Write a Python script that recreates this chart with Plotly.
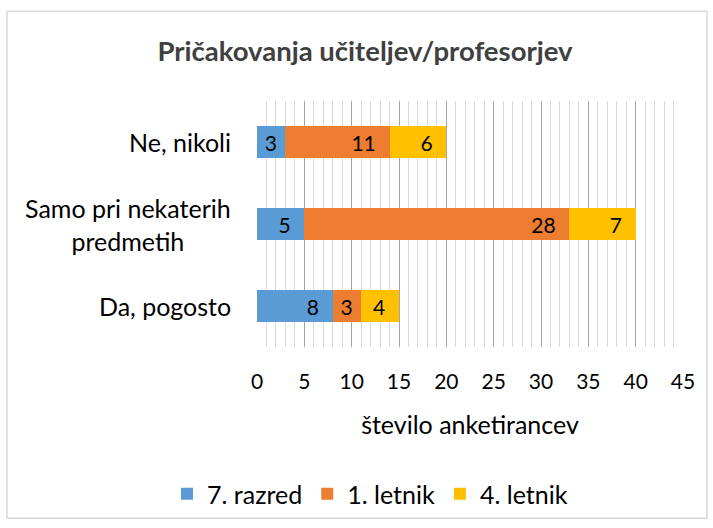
import plotly.graph_objects as go

categories = ["Da, pogosto", "Samo pri nekaterih<br>predmetih", "Ne, nikoli"]
series_names = ["7. razred", "1. letnik", "4. letnik"]
razred7 = [8, 5, 3]
letnik1 = [3, 28, 11]
letnik4 = [4, 7, 6]
x_ticks = [0, 5, 10, 15, 20, 25, 30, 35, 40, 45]

colors = ["#5B9BD5", "#ED7D31", "#FFC000"]
FONT = "Lato, 'Open Sans', sans-serif"


def label(v):
    # inside-end label with a little right padding; less for narrow segments
    return f"{v}" + ("\u00a0\u00a0" if v > 3 else "\u00a0")


fig = go.Figure()
for name, vals, col in zip(series_names, [razred7, letnik1, letnik4], colors):
    fig.add_trace(go.Bar(
        y=categories, x=vals, name=name, orientation="h",
        marker=dict(color=col, line=dict(width=0)),
        text=[label(v) for v in vals], textposition="inside",
        insidetextanchor="end", textangle=0, constraintext="none",
        textfont=dict(family=FONT, size=21, color="#000000"),
        width=0.4, hoverinfo="x+y+name",
    ))

# category labels, centered multi-line like the reference
for c in categories:
    fig.add_annotation(x=0, xref="paper", y=c, yref="y", text=c,
                       xanchor="right", yanchor="middle", align="center",
                       xshift=-24, showarrow=False,
                       font=dict(family=FONT, size=25, color="#000000"))

fig.update_layout(
    width=713, height=528,
    barmode="stack",
    paper_bgcolor="white", plot_bgcolor="white",
    margin=dict(l=257, r=30, t=101, b=180),
    title=dict(text="<b>Pričakovanja učiteljev/profesorjev</b>",
               x=365 / 713, xanchor="center", y=1 - 51 / 528, yanchor="middle",
               font=dict(family=FONT, size=27.5, color="#404040")),
    showlegend=True,
    legend=dict(orientation="h", x=(370 - 257) / 426, xanchor="center",
                y=(348 - 494) / 247, yanchor="middle",
                font=dict(family=FONT, size=25, color="#000000"),
                itemwidth=30, traceorder="normal"),
    shapes=[dict(type="rect", xref="paper", yref="paper",
                 x0=(7 - 257) / 426, x1=(707 - 257) / 426,
                 y0=(348 - 520) / 247, y1=(348 - 11) / 247,
                 line=dict(color="#D9D9D9", width=1.5), fillcolor="rgba(0,0,0,0)",
                 layer="below")],
)

fig.update_xaxes(
    range=[0, 45], tickvals=x_ticks, ticktext=[str(t) for t in x_ticks],
    showgrid=True, gridcolor="#A6A6A6", gridwidth=1,
    minor=dict(dtick=1, showgrid=True, gridcolor="#D9D9D9", gridwidth=1),
    zeroline=False, showline=False, ticks="",
    ticklabelstandoff=20,
    tickfont=dict(family=FONT, size=21, color="#000000"),
    title=dict(text="število anketirancev", standoff=24,
               font=dict(family=FONT, size=25, color="#000000")),
)
fig.update_yaxes(range=[-0.5, 2.5], showticklabels=False, showgrid=False,
                 zeroline=False, showline=False, ticks="")

fig.write_html("out.html", config={"displayModeBar": False},
               post_script="document.body.style.margin='0';")
